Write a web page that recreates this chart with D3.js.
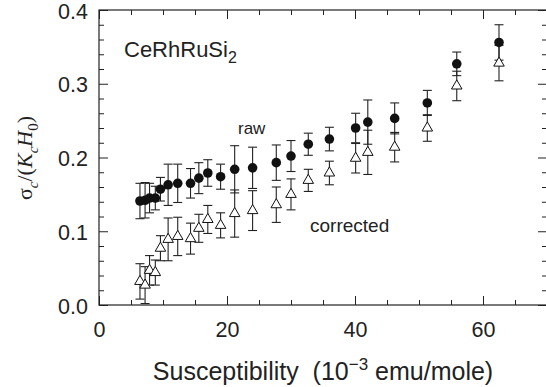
<!DOCTYPE html>
<html>
<head>
<meta charset="utf-8">
<script src="https://cdn.jsdelivr.net/npm/d3@7"></script>
<style>
  body { margin: 0; background: #fff; }
  text { font-family: "Liberation Sans", Arial, sans-serif; fill: #222; }
</style>
</head>
<body>
<div id="main"></div>
<script>
/* size */
const width = 546, height = 387;
const margin = {left: 99, right: -1, top: 10, bottom: 82};

/* data */
const susceptibility = [6.4, 7.2, 7.9, 8.8, 9.6, 10.8, 12.3, 14.3, 15.6, 17.0, 19.0, 21.2, 24.0, 27.7, 30.0, 32.7, 36.0, 40.1, 42.0, 46.2, 51.3, 55.9, 62.5];
const raw = [0.141, 0.142, 0.145, 0.145, 0.157, 0.163, 0.165, 0.165, 0.172, 0.179, 0.174, 0.184, 0.186, 0.193, 0.202, 0.218, 0.225, 0.240, 0.248, 0.253, 0.274, 0.327, 0.356];
const rawErr = [0.024, 0.024, 0.020, 0.016, 0.016, 0.028, 0.026, 0.020, 0.021, 0.018, 0.017, 0.032, 0.028, 0.024, 0.021, 0.015, 0.016, 0.020, 0.030, 0.021, 0.017, 0.016, 0.024];
const corrected = [0.032, 0.027, 0.047, 0.044, 0.077, 0.089, 0.093, 0.090, 0.104, 0.116, 0.108, 0.124, 0.128, 0.136, 0.150, 0.169, 0.179, 0.199, 0.207, 0.214, 0.240, 0.297, 0.328];
const correctedErr = [0.024, 0.025, 0.020, 0.017, 0.017, 0.029, 0.026, 0.021, 0.019, 0.019, 0.017, 0.032, 0.027, 0.024, 0.021, 0.015, 0.016, 0.020, 0.030, 0.020, 0.018, 0.020, 0.024];
const xMajor = [0, 20, 40, 60];
const xMinor = [5, 10, 15, 25, 30, 35, 45, 50, 55, 65];
const yMajor = [0, 0.1, 0.2, 0.3, 0.4];
const yMinor = [0.02, 0.04, 0.06, 0.08, 0.12, 0.14, 0.16, 0.18, 0.22, 0.24, 0.26, 0.28, 0.32, 0.34, 0.36, 0.38];

const svg = d3.select("#main").append("svg").attr("width", width).attr("height", height);

const x = d3.scaleLinear().domain([0, 70]).range([margin.left, width - margin.right]);
const y = d3.scaleLinear().domain([0, 0.4]).range([height - margin.bottom, margin.top]);

/* axes, ticks inside */
const X0 = x.range()[0], X1 = x.range()[1], Y0 = y.range()[0], Y1 = y.range()[1];
function axis(gen, tx, ty, vals, size, labels) {
  const g = svg.append("g").attr("transform", `translate(${tx},${ty})`)
    .call(gen.tickValues(vals).tickSize(-size).tickSizeOuter(0).tickPadding(10)
      .tickFormat(labels || (() => "")));
  g.select(".domain").remove();
  g.selectAll("line").attr("stroke", "#222").attr("stroke-width", 1);
  g.selectAll("text").style("font-size", "21.5px").attr("fill", "#222");
  return g;
}
axis(d3.axisBottom(x), 0, Y0, xMajor, 9, d3.format("d")).selectAll("text").attr("dy", "1.0em");
axis(d3.axisBottom(x), 0, Y0, xMinor, 5);
axis(d3.axisTop(x), 0, Y1, xMajor, 9);
axis(d3.axisTop(x), 0, Y1, xMinor, 5);
axis(d3.axisLeft(y), X0, 0, yMajor, 9, d3.format(".1f")).selectAll("text").attr("dx", "-1px").attr("dy", "0.38em");
axis(d3.axisLeft(y), X0, 0, yMinor, 5);
axis(d3.axisRight(y), X1, 0, yMajor, 9);
axis(d3.axisRight(y), X1, 0, yMinor, 5);

svg.append("rect").attr("x", X0).attr("y", Y1).attr("width", X1 - X0).attr("height", Y0 - Y1)
  .attr("fill", "none").attr("stroke", "#222").attr("stroke-width", 1.2);

/* error bars */
function errorBars(vals, errs) {
  const g = svg.append("g").attr("stroke", "#222").attr("stroke-width", 1.1);
  const pts = susceptibility.map((s, i) => ({s: s, v: vals[i], e: errs[i]}));
  g.selectAll("line.v").data(pts).enter().append("line")
    .attr("x1", d => x(d.s)).attr("x2", d => x(d.s))
    .attr("y1", d => y(d.v - d.e)).attr("y2", d => y(d.v + d.e));
  [-1, 1].forEach(sg => {
    g.selectAll(null).data(pts).enter().append("line")
      .attr("x1", d => x(d.s) - 4.5).attr("x2", d => x(d.s) + 4.5)
      .attr("y1", d => y(d.v + sg * d.e)).attr("y2", d => y(d.v + sg * d.e));
  });
}
errorBars(raw, rawErr);
errorBars(corrected, correctedErr);

/* markers */
svg.append("g").selectAll("circle").data(susceptibility).enter().append("circle")
  .attr("cx", d => x(d)).attr("cy", (d, i) => y(raw[i])).attr("r", 4.8)
  .attr("fill", "#111");

const tri = d3.symbol().type(d3.symbolTriangle).size(48);
svg.append("g").selectAll("path").data(susceptibility).enter().append("path")
  .attr("d", tri)
  .attr("transform", (d, i) => `translate(${x(d)},${y(corrected[i])})`)
  .attr("fill", "#fff").attr("stroke", "#111").attr("stroke-width", 1);

/* labels */
const comp = svg.append("text").attr("x", 124).attr("y", 57).style("font-size", "22px");
comp.append("tspan").text("CeRhRuSi");
comp.append("tspan").attr("dy", 6).style("font-size", "16px").text("2");

svg.append("text").attr("x", 238).attr("y", 134).style("font-size", "17px").text("raw");
svg.append("text").attr("x", 310).attr("y", 232).style("font-size", "19px").text("corrected");

const xt = svg.append("text").attr("x", (X0 + X1) / 2).attr("y", 380)
  .attr("text-anchor", "middle").style("font-size", "25px");
xt.append("tspan").text("Susceptibility\u00a0\u00a0(10");
xt.append("tspan").attr("dy", -10).style("font-size", "17px").text("\u22123");
xt.append("tspan").attr("dy", 10).text(" emu/mole)");

const yt = svg.append("text").attr("transform", "translate(32,158) rotate(-90)")
  .attr("text-anchor", "middle").style("font-size", "22px")
  .style("font-family", "'Liberation Serif', 'Times New Roman', serif");
yt.append("tspan").text("\u03c3");
yt.append("tspan").attr("dy", 6).style("font-size", "15px").style("font-style", "italic").text("c");
yt.append("tspan").attr("dy", -6).text("/(");
yt.append("tspan").style("font-style", "italic").text("K");
yt.append("tspan").attr("dy", 6).style("font-size", "15px").style("font-style", "italic").text("c");
yt.append("tspan").attr("dy", -6).style("font-style", "italic").text("H");
yt.append("tspan").attr("dy", 6).style("font-size", "15px").text("0");
yt.append("tspan").attr("dy", -6).text(")");
</script>
</body>
</html>
